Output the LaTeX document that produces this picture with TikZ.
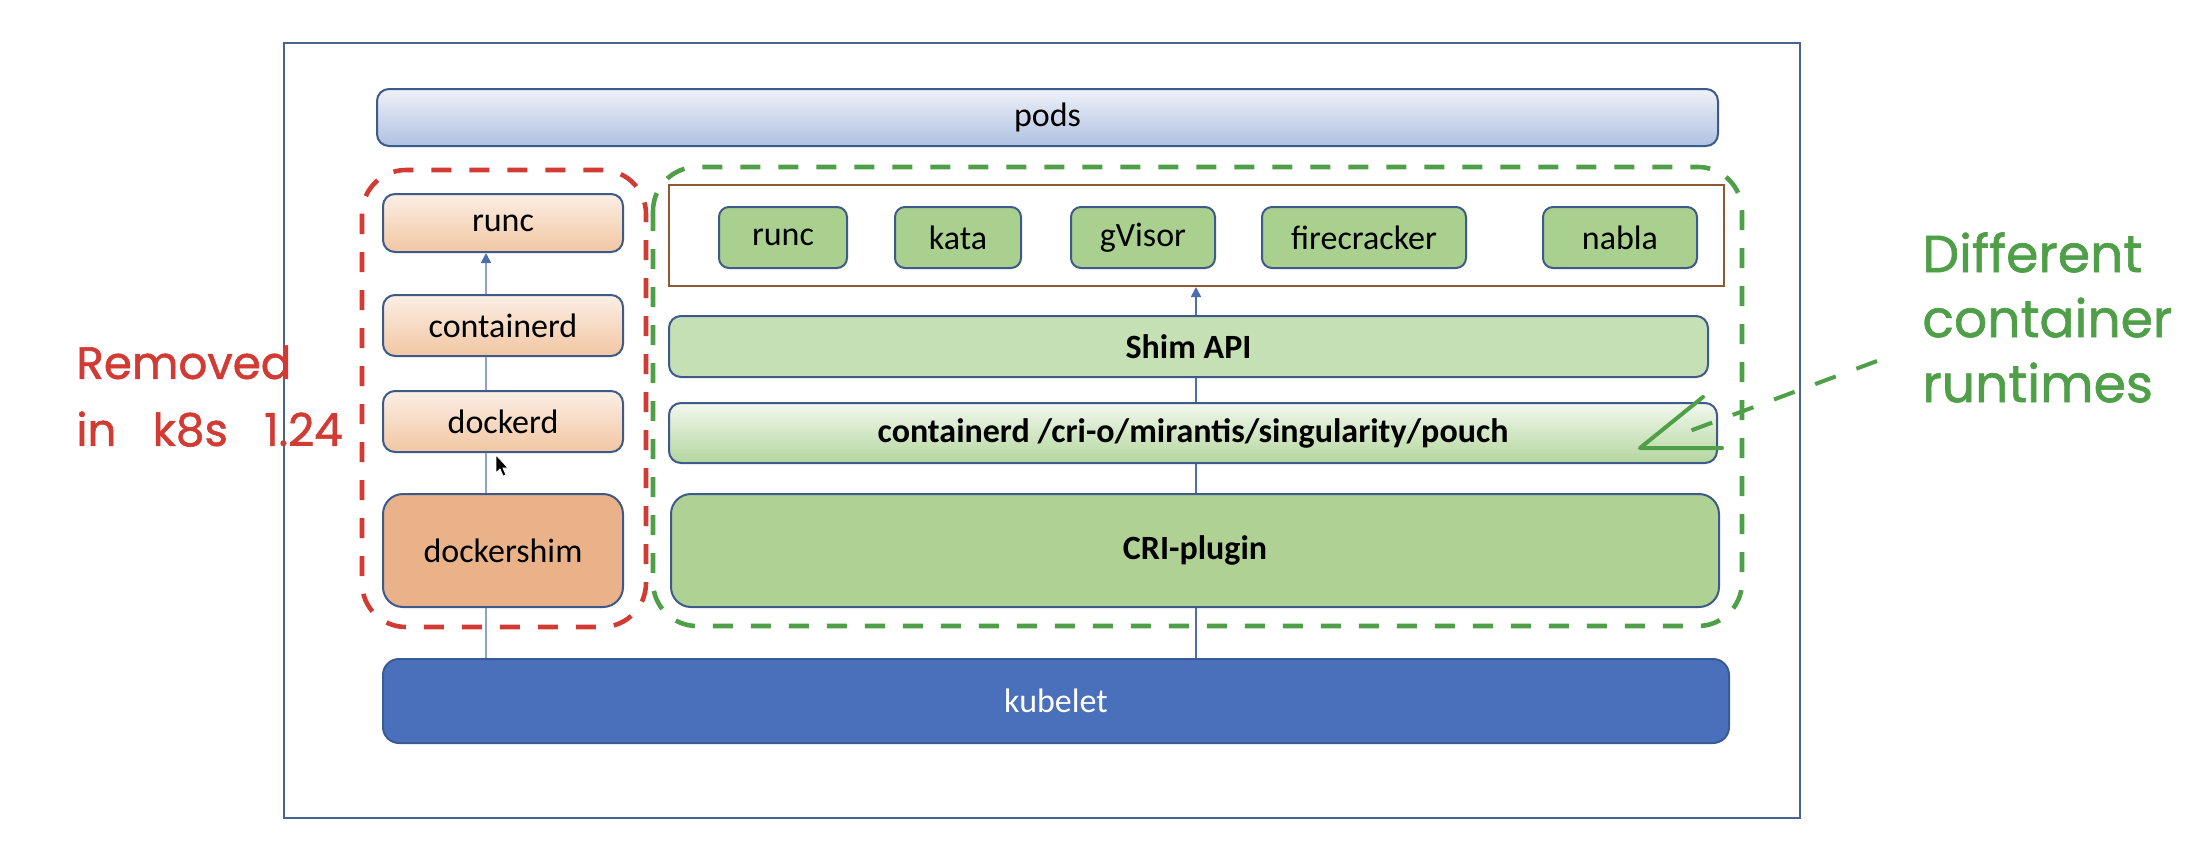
\documentclass[tikz,border=0pt]{standalone}
\usepackage{fontspec}
\setmainfont{Carlito}
\newfontfamily\handfont[FakeBold=1.2]{Poppins}
\newfontfamily\handwide[FakeBold=1.2,WordSpace=3]{Poppins}
\usetikzlibrary{arrows.meta}
\definecolor{framec}{HTML}{4A6390}
\definecolor{bordc}{HTML}{3E5A8A}
\definecolor{podtop}{HTML}{EEF1F8}
\definecolor{podbot}{HTML}{AFC1E1}
\definecolor{ortop}{HTML}{FCEFE5}
\definecolor{orbot}{HTML}{F1C6A2}
\definecolor{orsolid}{HTML}{E9B289}
\definecolor{grsmall}{HTML}{A9D08E}
\definecolor{grshim}{HTML}{C6E0B5}
\definecolor{grtop}{HTML}{F2F8EE}
\definecolor{grbot}{HTML}{B4D69E}
\definecolor{grcri}{HTML}{AFD294}
\definecolor{kubec}{HTML}{4A70BB}
\definecolor{kubeb}{HTML}{3A5A96}
\definecolor{brownc}{HTML}{8C5A33}
\definecolor{redann}{HTML}{D23B33}
\definecolor{greenann}{HTML}{4F9F48}
\definecolor{connL}{HTML}{8CA3C8}
\definecolor{connR}{HTML}{4C6DAE}
\begin{document}
\begin{tikzpicture}[x=0.5pt,y=-0.5pt,
  box/.style={draw=bordc, line width=1pt, rounded corners=6pt, inner sep=0pt,
    font=\fontsize{17}{20}\selectfont, text=black},
  boldbox/.style={box, font=\fontsize{17}{20}\selectfont\bfseries},
  smallbox/.style={box, fill=grsmall, rounded corners=5pt, minimum height=30.5pt},
  conn/.style={line width=0.8pt},
  tipstyle/.style={-{Triangle[width=5pt,length=5pt,color=connR]}},
  ann/.style={line width=2.3pt, dash pattern=on 10pt off 9pt, rounded corners=22pt},
  handtext/.style={anchor=north west, inner sep=0pt, align=left}]
\useasboundingbox (0,0) rectangle (2208,868);
\fill[white] (0,0) rectangle (2208,868);
% outer frame
\draw[framec, line width=1pt] (284,43) rectangle (1800,818);
% top
\node[box, top color=podtop, bottom color=podbot, minimum width=670.5pt, minimum height=28.5pt] (pods) at (1047.5,117.5) {pods};
% left stack
\node[box, top color=ortop, bottom color=orbot, minimum width=120pt, minimum height=29pt] (runcL) at (503,223) {runc};
\node[box, top color=ortop, bottom color=orbot, minimum width=120pt, minimum height=30.5pt] (containerdL) at (503,325.5) {containerd};
\node[box, top color=ortop, bottom color=orbot, minimum width=120pt, minimum height=30.5pt] (dockerd) at (503,421.5) {dockerd};
\node[box, fill=orsolid, rounded corners=10pt, minimum width=120pt, minimum height=56.5pt] (dockershim) at (503,550.5) {dockershim};
% kubelet
\node[box, fill=kubec, draw=kubeb, text=white, rounded corners=8pt, minimum width=673pt, minimum height=42pt] (kubelet) at (1056,701) {kubelet};
% right stack
\node[boldbox, fill=grcri, rounded corners=10pt, minimum width=524pt, minimum height=56.5pt] (cri) at (1195,550.5) {CRI-plugin};
\node[boldbox, top color=grtop, bottom color=grbot, minimum width=524pt, minimum height=30pt] (ctrd) at (1193,433) {containerd /cri-o/mirantis/singularity/pouch};
\node[boldbox, fill=grshim, minimum width=519.5pt, minimum height=30.5pt] (shim) at (1188.5,346.5) {Shim API};
\node[draw=brownc, line width=1pt, inner sep=0pt, minimum width=527.5pt, minimum height=50.5pt] (rt) at (1196.5,235.5) {};
\node[smallbox, minimum width=64pt] (runcR) at (783,237.5) {runc};
\node[smallbox, minimum width=63pt] (kata) at (958,237.5) {kata};
\node[smallbox, minimum width=72pt] (gvisor) at (1143,237.5) {gVisor};
\node[smallbox, minimum width=102pt] (fire) at (1364,237.5) {firecracker};
\node[smallbox, minimum width=77pt] (nabla) at (1620,237.5) {nabla};
% connectors
\coordinate (lx) at (486,0);
\coordinate (rx) at (1196,0);
\draw[conn, connL] (kubelet.north -| lx) -- (dockershim.south -| lx);
\draw[conn, connL] (dockershim.north -| lx) -- (dockerd.south -| lx);
\draw[conn, connL] (dockerd.north -| lx) -- (containerdL.south -| lx);
\draw[conn, connL, tipstyle] (containerdL.north -| lx) -- (runcL.south -| lx);
\draw[conn, connR] (kubelet.north -| rx) -- (cri.south -| rx);
\draw[conn, connR] (cri.north -| rx) -- (ctrd.south -| rx);
\draw[conn, connR] (ctrd.north -| rx) -- (shim.south -| rx);
\draw[conn, connR, tipstyle] (shim.north -| rx) -- (rt.south -| rx);
% cursor
\filldraw[fill=black, draw=white, line width=0.4pt] (496,455) -- (496,473) -- (500,469) -- (503,476) -- (506,475) -- (503,468) -- (508,468) -- cycle;
% dashed groupings
\draw[redann, ann] (362,170) rectangle (646,627);
\draw[greenann, ann] (653,167) rectangle (1742,626);
% annotations
\node[handtext, text=redann, font=\handwide\fontsize{22.6}{33.5}\selectfont] (removed) at (76,345) {Removed\\in k8s 1.24};
\node[handtext, text=greenann, font=\handfont\fontsize{26}{32.5}\selectfont] (diff) at (1922,232) {Different\\container\\runtimes};
\coordinate (leadA) at (1877,361);
\coordinate (leadB) at (1687,432);
\coordinate (tip) at (1640,448);
\coordinate (hu) at (1703,397);
\coordinate (hr) at (1722,448);
\draw[greenann, line width=2pt, dash pattern=on 11pt off 11pt] (leadA) -- (leadB);
\draw[greenann, line width=2pt, line cap=round, line join=round] (hu) -- (tip) -- (hr);
\end{tikzpicture}
\end{document}
